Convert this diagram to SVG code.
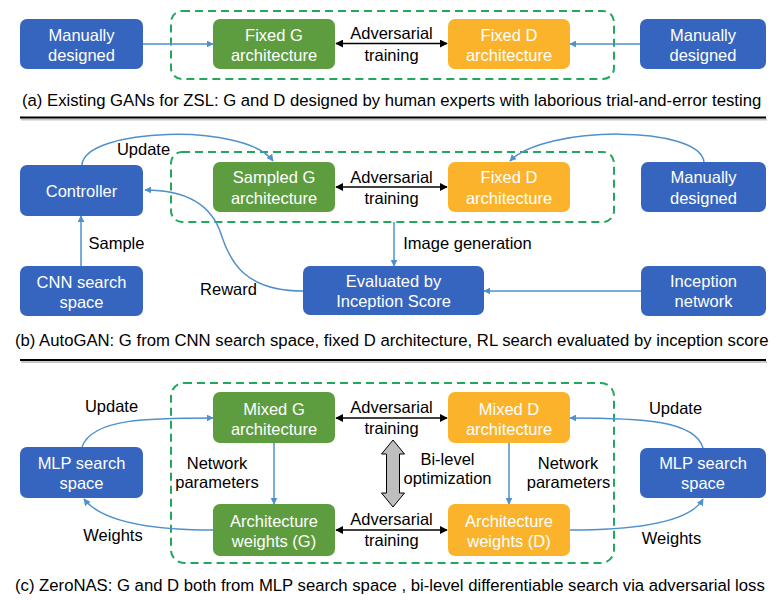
<svg xmlns="http://www.w3.org/2000/svg" width="781" height="600" viewBox="0 0 781 600">
<style>
  text { font-family: "Liberation Sans", Arial, sans-serif; font-size: 16.5px; }
  .bt { fill: #ffffff; text-anchor: middle; }
  .lb { fill: #000000; text-anchor: middle; }
  .cap { fill: #000000; font-size: 16.7px; }
  .blue { fill: #3565BF; }
  .green { fill: #5E9D3F; }
  .orange { fill: #FBB32C; }
  .dash { fill: none; stroke: #22A85A; stroke-width: 2; stroke-dasharray: 8 5; }
  .bc { fill: none; stroke: #4F91CB; stroke-width: 1.5; marker-end: url(#ab); }
  .kc { fill: none; stroke: #000000; stroke-width: 1.5; marker-start: url(#ks); marker-end: url(#ke); }
  .sep { stroke: #000000; stroke-width: 2; }
  .sh { stroke: #c8c8c8; stroke-width: 2; }
</style>
<defs>
  <marker id="ab" viewBox="0 0 10 10" refX="9" refY="5" markerWidth="7" markerHeight="7" markerUnits="userSpaceOnUse" orient="auto">
    <path d="M0,0 L10,5 L0,10 z" fill="#4F91CB"/>
  </marker>
  <marker id="ke" viewBox="0 0 10 10" refX="9" refY="5" markerWidth="8" markerHeight="8" markerUnits="userSpaceOnUse" orient="auto">
    <path d="M0,0 L10,5 L0,10 z" fill="#000"/>
  </marker>
  <marker id="ks" viewBox="0 0 10 10" refX="1" refY="5" markerWidth="8" markerHeight="8" markerUnits="userSpaceOnUse" orient="auto">
    <path d="M10,0 L0,5 L10,10 z" fill="#000"/>
  </marker>
</defs>
<rect width="781" height="600" fill="#ffffff"/>

<!-- ===== Section (a) ===== -->
<rect class="dash" x="171" y="11" width="443" height="68" rx="11"/>
<g id="a-manual-left">
  <rect class="blue" x="20" y="19" width="123" height="50" rx="7"/>
  <text class="bt" x="81.5" y="40.5">Manually</text>
  <text class="bt" x="81.5" y="60.5">designed</text>
</g>
<g id="a-fixed-g">
  <rect class="green" x="213" y="19" width="122" height="50" rx="7"/>
  <text class="bt" x="274" y="40.5">Fixed G</text>
  <text class="bt" x="274" y="60.5">architecture</text>
</g>
<g id="a-fixed-d">
  <rect class="orange" x="448" y="19" width="122" height="50" rx="7"/>
  <text class="bt" x="509" y="40.5">Fixed D</text>
  <text class="bt" x="509" y="60.5">architecture</text>
</g>
<g id="a-manual-right">
  <rect class="blue" x="640" y="19" width="126" height="50" rx="7"/>
  <text class="bt" x="703" y="40.5">Manually</text>
  <text class="bt" x="703" y="60.5">designed</text>
</g>
<g id="a-connectors">
  <path class="bc" d="M143,44 L213,44"/>
  <path class="bc" d="M640,44 L570,44"/>
  <path class="kc" d="M336,43.5 L447,43.5"/>
  <text class="lb" x="391.5" y="39">Adversarial</text>
  <text class="lb" x="391.5" y="61">training</text>
</g>
<text class="cap" x="22" y="106">(a) Existing GANs for ZSL: G and D designed by human experts with laborious trial-and-error testing</text>
<line class="sh" x1="21" y1="119.5" x2="767" y2="119.5"/>
<line class="sep" x1="20" y1="117.5" x2="766" y2="117.5"/>

<!-- ===== Section (b) ===== -->
<rect class="dash" x="171" y="152" width="443" height="70" rx="11"/>
<g id="b-controller">
  <rect class="blue" x="20" y="165" width="123" height="51" rx="7"/>
  <text class="bt" x="81.5" y="197">Controller</text>
</g>
<g id="b-cnn">
  <rect class="blue" x="20" y="266" width="123" height="50" rx="7"/>
  <text class="bt" x="81.5" y="287.5">CNN search</text>
  <text class="bt" x="81.5" y="307.5">space</text>
</g>
<g id="b-sampled-g">
  <rect class="green" x="213" y="162" width="122" height="50" rx="7"/>
  <text class="bt" x="274" y="183">Sampled G</text>
  <text class="bt" x="274" y="203.5">architecture</text>
</g>
<g id="b-fixed-d">
  <rect class="orange" x="448" y="162" width="122" height="50" rx="7"/>
  <text class="bt" x="509" y="183">Fixed D</text>
  <text class="bt" x="509" y="203.5">architecture</text>
</g>
<g id="b-manual">
  <rect class="blue" x="641" y="162" width="125" height="50" rx="7"/>
  <text class="bt" x="703.5" y="183">Manually</text>
  <text class="bt" x="703.5" y="203.5">designed</text>
</g>
<g id="b-eval">
  <rect class="blue" x="303" y="266" width="181" height="49" rx="7"/>
  <text class="bt" x="393.5" y="287">Evaluated by</text>
  <text class="bt" x="393.5" y="307">Inception Score</text>
</g>
<g id="b-inception">
  <rect class="blue" x="641" y="266" width="125" height="50" rx="7"/>
  <text class="bt" x="703.5" y="287">Inception</text>
  <text class="bt" x="703.5" y="307">network</text>
</g>
<g id="b-connectors">
  <path class="bc" d="M82,165 C84,128 245,122 273,161"/>
  <path class="bc" d="M704,162 C700,125 545,125 510,161"/>
  <path class="bc" d="M303,291 C245,291 230,262 221,234 C211,203 185,190 145,190"/>
  <path class="bc" d="M394,222 L394,266"/>
  <path class="bc" d="M641,291 L484,291"/>
  <path class="bc" d="M81,266 L81,216"/>
  <path class="kc" d="M336,187 L447,187"/>
  <text class="lb" x="143.5" y="155">Update</text>
  <text class="lb" x="391.5" y="183">Adversarial</text>
  <text class="lb" x="391.5" y="204">training</text>
  <text class="lb" x="116.5" y="249">Sample</text>
  <text class="lb" x="467.5" y="249">Image generation</text>
  <text class="lb" x="228.5" y="295">Reward</text>
</g>
<text class="cap" x="15" y="346">(b) AutoGAN: G from CNN search space, fixed D architecture, RL search evaluated by inception score</text>
<line class="sh" x1="21" y1="362" x2="767" y2="362"/>
<line class="sep" x1="20" y1="360" x2="766" y2="360"/>

<!-- ===== Section (c) ===== -->
<rect class="dash" x="171" y="383" width="443" height="180" rx="13"/>
<g id="c-mlp-left">
  <rect class="blue" x="20" y="447" width="123" height="51" rx="7"/>
  <text class="bt" x="81.5" y="469">MLP search</text>
  <text class="bt" x="81.5" y="489">space</text>
</g>
<g id="c-mixed-g">
  <rect class="green" x="213" y="392" width="122" height="51" rx="7"/>
  <text class="bt" x="274" y="415">Mixed G</text>
  <text class="bt" x="274" y="435">architecture</text>
</g>
<g id="c-mixed-d">
  <rect class="orange" x="448" y="392" width="122" height="51" rx="7"/>
  <text class="bt" x="509" y="415">Mixed D</text>
  <text class="bt" x="509" y="435">architecture</text>
</g>
<g id="c-arch-g">
  <rect class="green" x="213" y="504" width="122" height="52" rx="7"/>
  <text class="bt" x="274" y="527">Architecture</text>
  <text class="bt" x="274" y="547">weights (G)</text>
</g>
<g id="c-arch-d">
  <rect class="orange" x="448" y="504" width="122" height="52" rx="7"/>
  <text class="bt" x="509" y="527">Architecture</text>
  <text class="bt" x="509" y="547">weights (D)</text>
</g>
<g id="c-mlp-right">
  <rect class="blue" x="640" y="448" width="126" height="50" rx="7"/>
  <text class="bt" x="703" y="469">MLP search</text>
  <text class="bt" x="703" y="489">space</text>
</g>
<g id="c-connectors">
  <path class="bc" d="M82,447 C92,418 150,418 213,418"/>
  <path class="bc" d="M213,530 C150,530 102,522 84,499"/>
  <path class="bc" d="M703,448 C695,420 640,418 570,418"/>
  <path class="bc" d="M570,530 C640,530 690,522 703,499"/>
  <path class="bc" d="M274,443 L274,504"/>
  <path class="bc" d="M509,443 L509,504"/>
  <path class="kc" d="M336,418 L447,418"/>
  <path class="kc" d="M336,530 L447,530"/>
  <polygon points="393,440 404.5,454 399.5,454 399.5,493 404.5,493 393,507 381.5,493 386.5,493 386.5,454 381.5,454" fill="#BEBEBE" stroke="#000" stroke-width="1"/>
  <text class="lb" x="111.5" y="412">Update</text>
  <text class="lb" x="113" y="541">Weights</text>
  <text class="lb" x="675.5" y="414">Update</text>
  <text class="lb" x="671.5" y="544">Weights</text>
  <text class="lb" x="217" y="469">Network</text>
  <text class="lb" x="217" y="488">parameters</text>
  <text class="lb" x="568" y="469">Network</text>
  <text class="lb" x="568.5" y="488">parameters</text>
  <text class="lb" x="447.5" y="465">Bi-level</text>
  <text class="lb" x="447.5" y="484">optimization</text>
  <text class="lb" x="391.5" y="413">Adversarial</text>
  <text class="lb" x="391.5" y="434">training</text>
  <text class="lb" x="391.5" y="525">Adversarial</text>
  <text class="lb" x="391.5" y="546">training</text>
</g>
<text class="cap" x="15" y="591">(c) ZeroNAS: G and D both from MLP search space , bi-level differentiable search via adversarial loss</text>
</svg>
